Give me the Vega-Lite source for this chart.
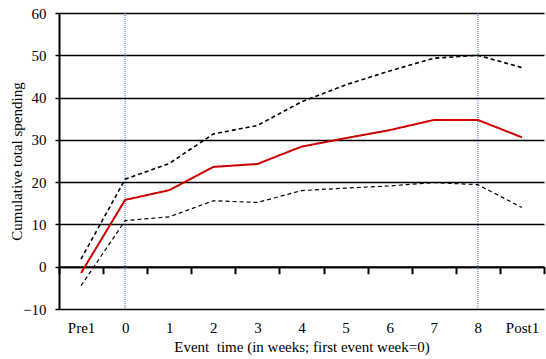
{
  "$schema": "https://vega.github.io/schema/vega-lite/v6.json",
  "autosize": {"type": "none"},
  "width": 485,
  "height": 296,
  "padding": {"left": 59, "top": 13, "right": 2, "bottom": 50},
  "background": "white",
  "config": {
    "view": {"stroke": null},
    "font": "Liberation Serif",
    "axis": {"labelFont": "Liberation Serif", "titleFont": "Liberation Serif", "labelColor": "black", "titleColor": "black", "labelFontSize": 15, "titleFontSize": 15, "titleFontWeight": "normal"}
  },
  "datasets": {
    "spending": [
      {"week": "Pre1", "series": "estimate", "value": -1.5},
      {"week": "0", "series": "estimate", "value": 15.8},
      {"week": "1", "series": "estimate", "value": 18.1},
      {"week": "2", "series": "estimate", "value": 23.6},
      {"week": "3", "series": "estimate", "value": 24.3},
      {"week": "4", "series": "estimate", "value": 28.4},
      {"week": "5", "series": "estimate", "value": 30.4},
      {"week": "6", "series": "estimate", "value": 32.3},
      {"week": "7", "series": "estimate", "value": 34.7},
      {"week": "8", "series": "estimate", "value": 34.7},
      {"week": "Post1", "series": "estimate", "value": 30.6},
      {"week": "Pre1", "series": "upper", "value": 1.8},
      {"week": "0", "series": "upper", "value": 20.7},
      {"week": "1", "series": "upper", "value": 24.4},
      {"week": "2", "series": "upper", "value": 31.4},
      {"week": "3", "series": "upper", "value": 33.4},
      {"week": "4", "series": "upper", "value": 39.0},
      {"week": "5", "series": "upper", "value": 43.0},
      {"week": "6", "series": "upper", "value": 46.3},
      {"week": "7", "series": "upper", "value": 49.3},
      {"week": "8", "series": "upper", "value": 50.0},
      {"week": "Post1", "series": "upper", "value": 47.1},
      {"week": "Pre1", "series": "lower", "value": -4.5},
      {"week": "0", "series": "lower", "value": 10.9},
      {"week": "1", "series": "lower", "value": 11.8},
      {"week": "2", "series": "lower", "value": 15.6},
      {"week": "3", "series": "lower", "value": 15.2},
      {"week": "4", "series": "lower", "value": 18.0},
      {"week": "5", "series": "lower", "value": 18.6},
      {"week": "6", "series": "lower", "value": 19.1},
      {"week": "7", "series": "lower", "value": 19.9},
      {"week": "8", "series": "lower", "value": 19.4},
      {"week": "Post1", "series": "lower", "value": 14.0}
    ],
    "markers": [
      {"week": "0"},
      {"week": "8"}
    ]
  },
  "layer": [
    {
      "data": {"name": "markers"},
      "mark": {"type": "rule", "color": "#3c78d8", "strokeWidth": 1, "strokeDash": [1, 1]},
      "encoding": {
        "x": {"field": "week", "type": "ordinal", "sort": ["Pre1", "0", "1", "2", "3", "4", "5", "6", "7", "8", "Post1"], "bandPosition": 0.5}
      }
    },
    {
      "data": {"name": "spending"},
      "mark": {"type": "line", "strokeCap": "butt", "strokeJoin": "miter"},
      "encoding": {
        "x": {
          "field": "week", "type": "ordinal",
          "sort": ["Pre1", "0", "1", "2", "3", "4", "5", "6", "7", "8", "Post1"],
          "bandPosition": 0.5,
          "scale": {"type": "band", "paddingInner": 0, "paddingOuter": 0},
          "axis": {
            "title": "Event\u00a0 time (in weeks; first event week=0)",
            "labelAngle": 0,
            "labelAlign": "center",
            "labelBaseline": "top",
            "labelFlush": false,
            "labelOverlap": false,
            "offset": -42.3,
            "domain": true, "domainColor": "black", "domainWidth": 2,
            "ticks": true, "tickBand": "extent", "tickColor": "black", "tickOpacity": 1, "tickWidth": 2, "tickSize": 7,
            "labelPadding": 47,
            "titlePadding": 4
          }
        },
        "y": {
          "field": "value", "type": "quantitative",
          "scale": {"domain": [-10, 60], "nice": false, "zero": false},
          "axis": {
            "title": "Cumulative total spending",
            "values": [-10, 0, 10, 20, 30, 40, 50, 60],
            "grid": true, "gridColor": "black", "gridWidth": 1.5, "gridOpacity": 1,
            "domain": true, "domainColor": "black", "domainWidth": 2,
            "tickColor": "black", "tickWidth": 1.5, "tickSize": 4,
            "labelPadding": 9,
            "titlePadding": -2
          }
        },
        "detail": {"field": "series"},
        "color": {"field": "series", "type": "nominal", "scale": {"domain": ["estimate", "upper", "lower"], "range": ["#cc0000", "black", "black"]}, "legend": null},
        "strokeDash": {"field": "series", "type": "nominal", "scale": {"domain": ["estimate", "upper", "lower"], "range": [[1, 0], [4, 3], [4, 3]]}, "legend": null},
        "strokeWidth": {"field": "series", "type": "nominal", "scale": {"domain": ["estimate", "upper", "lower"], "range": [2, 1.2, 1.2]}, "legend": null}
      }
    }
  ]
}
